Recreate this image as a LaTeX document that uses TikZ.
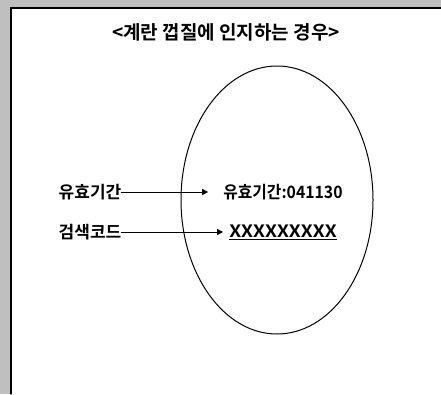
\documentclass[tikz,border=0pt]{standalone}
\usepackage{fontspec}
\setmainfont{Noto Sans CJK KR}
\newfontfamily\krbold{Noto Sans CJK KR Bold}
\usetikzlibrary{arrows.meta}
\begin{document}
\begin{tikzpicture}[x=1pt,y=-1pt,line cap=round]

    % let's define some key values
    \def\pw{441}
    \def\ph{394}
    \def\xframe{11}
    \def\yframe{8}
    \def\xegg{277}
    \def\yegg{200}
    \def\xlabel{90}
    \def\yrowa{192}
    \def\yrowb{232}

    % Styles
    \tikzstyle{lbl}=[inner sep=0pt, font=\krbold\fontsize{17}{17}\selectfont]
    \tikzstyle{link}=[line width=1pt, -{Triangle[length=6pt,width=6pt]}]

    \useasboundingbox (0,0) rectangle (\pw,\ph);

    % scanned border
    \fill[black!25] (0,0) rectangle (\pw,\yframe);
    \fill[black!25] (0,0) rectangle (\xframe,\ph);
    \draw[line width=1.2pt] (\xframe,\ph) -- (\xframe,\yframe) -- (\pw,\yframe);

    % title
    \node[lbl, font=\krbold\fontsize{19}{19}\selectfont] (title) at (226,32)
        {<계란 껍질에 인지하는 경우>};

    % egg shell
    \draw[line width=1pt] (\xegg,\yegg) ellipse [x radius=96, y radius=134];

    % expiry date
    \node[lbl] (expiry) at (\xlabel,\yrowa) {유효기간};
    \node[lbl, xscale=0.93] (expirytxt) at (283,\yrowa) {유효기간:041130};
    \draw[link, shorten >=15pt] (expiry) -- (expirytxt);

    % search code
    \node[lbl, xscale=1.12] (searchtxt) at (283,\yrowb) {\underline{XXXXXXXXX}};
    \node[lbl] (search) at (\xlabel,\yrowb) {검색코드};
    \draw[link, shorten >=6pt] (search) -- (searchtxt);

\end{tikzpicture}
\end{document}
